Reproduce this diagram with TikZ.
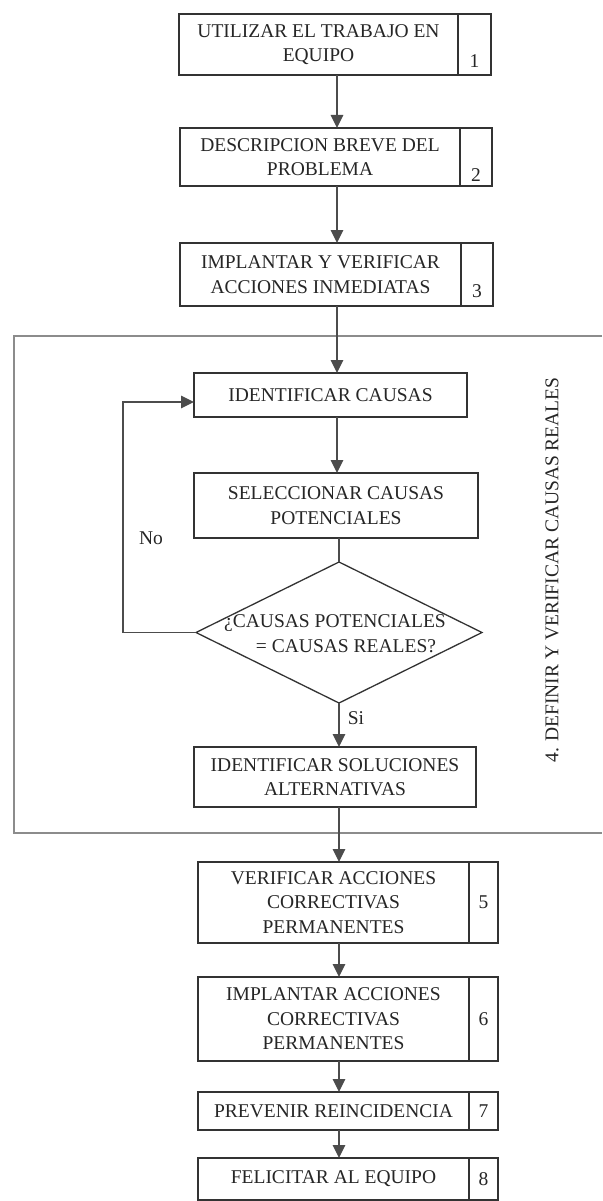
\documentclass[tikz,border=0pt]{standalone}
\usepackage{fontspec}
\setmainfont{Liberation Serif}
\usetikzlibrary{arrows.meta,shapes.geometric}
\begin{document}
\begin{tikzpicture}[x=1pt,y=-1pt,
 txt/.style={font=\fontsize{19.5}{24.5}\selectfont, text=black!85},
 box/.style={draw=black!80, line width=1.3pt, inner sep=0pt, outer sep=0pt, align=center, txt},
 numbox/.style={box, anchor=west},
 thickdiv/.style={box, anchor=west, line width=1.3pt},
 arr/.style={draw=black!70, line width=1.5pt, -{Triangle[width=12.5pt,length=13pt]}},
 ln/.style={draw=black!70, line width=1.5pt},
 frameline/.style={draw=black!45, line width=1.2pt},
 dec/.style={diamond, draw=black!80, line width=1.3pt, inner sep=0pt, outer sep=0pt, minimum width=286pt, minimum height=141pt},
 lbl/.style={txt}
]
\useasboundingbox (0,0) rectangle (602,1201);
\fill[white] (0,0) rectangle (602,1201);

% frame of step 4
\draw[frameline] (602,336) -- (14,336) -- (14,833) -- (602,833);

% top boxes
\node[box, minimum width=279pt, minimum height=61pt] (b1) at (318.5,44.5) {UTILIZAR EL TRABAJO EN\\EQUIPO};
\node[numbox, minimum width=33pt, minimum height=61pt, label={[txt, anchor=south, yshift=4pt]south:1}] (n1) at (b1.east) {};

\node[box, minimum width=280pt, minimum height=58pt] (b2) at (320,157) {DESCRIPCION BREVE DEL\\PROBLEMA};
\node[numbox, minimum width=32pt, minimum height=58pt, label={[txt, anchor=south, yshift=1pt]south:2}] (n2) at (b2.east) {};

\node[box, minimum width=281pt, minimum height=63pt] (b3) at (320.5,274.5) {IMPLANTAR Y VERIFICAR\\ACCIONES INMEDIATAS};
\node[numbox, minimum width=32pt, minimum height=63pt, label={[txt, anchor=south, yshift=5pt]south:3}] (n3) at (b3.east) {};

% step 4 content
\node[box, minimum width=273pt, minimum height=44pt] (ic) at (330.5,395) {IDENTIFICAR CAUSAS};
\node[box, minimum width=284pt, minimum height=65pt] (sc) at (336,505.5) {SELECCIONAR CAUSAS\\POTENCIALES};
\node[dec, label={[txt, align=center, xshift=-4pt, yshift=-1pt]center:{¿CAUSAS POTENCIALES\\\hspace*{22pt}= CAUSAS REALES?}}] (d) at (339,632.5) {};
\node[box, minimum width=282pt, minimum height=60pt] (is) at (335,777) {IDENTIFICAR SOLUCIONES\\ALTERNATIVAS};

\node[lbl] (no) at (151,538) {No};
\node[lbl] (si) at (356,718) {Si};
\node[lbl, rotate=90] (t4) at (552,570) {4. DEFINIR Y VERIFICAR CAUSAS REALES};

% bottom boxes
\node[box, minimum width=271pt, minimum height=81pt] (b5) at (333.5,902.5) {VERIFICAR ACCIONES\\CORRECTIVAS\\PERMANENTES};
\node[thickdiv, minimum width=29pt, minimum height=81pt] (n5) at (b5.east) {5};
\node[box, minimum width=271pt, minimum height=84pt] (b6) at (333.5,1019) {IMPLANTAR ACCIONES\\CORRECTIVAS\\PERMANENTES};
\node[thickdiv, minimum width=29pt, minimum height=84pt] (n6) at (b6.east) {6};
\node[box, minimum width=271pt, minimum height=38pt] (b7) at (333.5,1111) {PREVENIR REINCIDENCIA};
\node[thickdiv, minimum width=29pt, minimum height=38pt] (n7) at (b7.east) {7};
\node[box, minimum width=271pt, minimum height=42pt] (b8) at (333.5,1179) {FELICITAR AL EQUIPO};
\node[thickdiv, minimum width=29pt, minimum height=42pt] (n8) at (b8.east) {8};

% thick dividers
\draw[black!80, line width=2.4pt] (n5.north west) -- (n5.south west);
\draw[black!80, line width=2.4pt] (n6.north west) -- (n6.south west);
\draw[black!80, line width=2.4pt] (n7.north west) -- (n7.south west);
\draw[black!80, line width=2.4pt] (n8.north west) -- (n8.south west);

% axes for connectors
\coordinate (ax) at (337,0);
\coordinate (bx) at (339,0);
\coordinate (lp) at (123,402);

% connectors
\draw[arr] (b1.south -| ax) -- (b2.north -| ax);
\draw[arr] (b2.south -| ax) -- (b3.north -| ax);
\draw[arr] (b3.south -| ax) -- (ic.north -| ax);
\draw[arr] (ic.south -| ax) -- (sc.north -| ax);
\draw[ln] (sc.south -| d.north) -- (d.north);
\draw[arr] (d.south) -- (is.north -| d.south);
\draw[arr] (d.west) -| (lp) -- (lp -| ic.west);
\draw[arr] (is.south -| bx) -- (b5.north -| bx);
\draw[arr] (b5.south -| bx) -- (b6.north -| bx);
\draw[arr] (b6.south -| bx) -- (b7.north -| bx);
\draw[arr] (b7.south -| bx) -- (b8.north -| bx);
\end{tikzpicture}
\end{document}
